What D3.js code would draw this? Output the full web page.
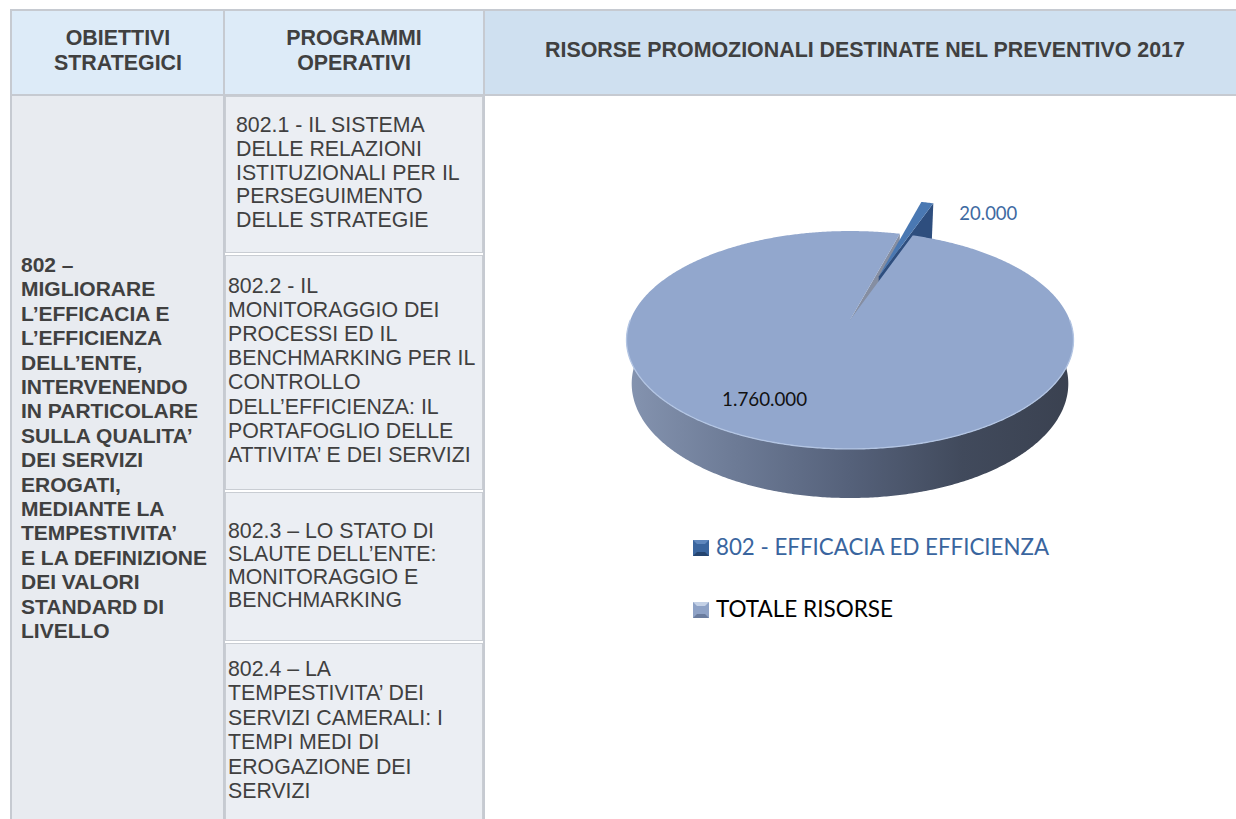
<!DOCTYPE html>
<html><head><meta charset="utf-8">
<script src="https://cdn.jsdelivr.net/npm/d3@7"></script>
<style>html,body{margin:0;padding:0;background:#fff;} svg{display:block;}</style>
</head><body>
<svg id="c" width="1236" height="819"></svg>
<script>
// ---------------- DATA ----------------
const headerLines = [["OBIETTIVI", "STRATEGICI"], ["PROGRAMMI", "OPERATIVI"], ["RISORSE PROMOZIONALI DESTINATE NEL PREVENTIVO 2017"]];
const objectiveLines = ["802 –", "MIGLIORARE", "L’EFFICACIA E", "L’EFFICIENZA", "DELL’ENTE,", "INTERVENENDO", "IN PARTICOLARE", "SULLA QUALITA’", "DEI SERVIZI", "EROGATI,", "MEDIANTE LA", "TEMPESTIVITA’", "E LA DEFINIZIONE", "DEI VALORI", "STANDARD DI", "LIVELLO"];
const programLines = [
  ["802.1 - IL SISTEMA", "DELLE RELAZIONI", "ISTITUZIONALI PER IL", "PERSEGUIMENTO", "DELLE STRATEGIE"],
  ["802.2 - IL", "MONITORAGGIO DEI", "PROCESSI ED IL", "BENCHMARKING PER IL", "CONTROLLO", "DELL’EFFICIENZA: IL", "PORTAFOGLIO DELLE", "ATTIVITA’ E DEI SERVIZI"],
  ["802.3 – LO STATO DI", "SLAUTE DELL’ENTE:", "MONITORAGGIO E", "BENCHMARKING"],
  ["802.4 – LA", "TEMPESTIVITA’ DEI", "SERVIZI CAMERALI: I", "TEMPI MEDI DI", "EROGAZIONE DEI", "SERVIZI"]
];
const categories = ["802 - EFFICACIA ED EFFICIENZA", "TOTALE RISORSE"];
const values = [20000, 1760000];

(function () {
const svg = d3.select("#c");
const W = 1236, Hh = 819;
const fmt = d3.formatLocale({decimal: ",", thousands: ".", grouping: [3], currency: ["€", ""]}).format(",");
const ARIAL = "'Liberation Sans', Arial, sans-serif";
const LATO = "Lato, 'Open Sans', sans-serif";
const border = "#C6CAD1";
const textCol = "#404040";

// ---------------- TABLE ----------------
const g = svg.append("g");
g.append("rect").attr("x", 11).attr("y", 10).attr("width", 213).attr("height", 85).attr("fill", "#DDEBF8");
g.append("rect").attr("x", 225).attr("y", 10).attr("width", 259).attr("height", 85).attr("fill", "#DDEBF8");
g.append("rect").attr("x", 485).attr("y", 10).attr("width", W - 485).attr("height", 85).attr("fill", "#CFE0F0");
g.append("rect").attr("x", 11).attr("y", 96).attr("width", 213).attr("height", Hh - 96).attr("fill", "#E8EBF0");

const cellBox = [[96, 252], [255, 489], [492, 640], [643, Hh + 5]];
const cellFirst = [132, 293, 538, 676];
const cellStep = [23.8, 24.1, 23, 24.4];
const cellX = [236, 228, 228, 228];
cellBox.forEach(b => {
  g.append("rect").attr("x", 225.5).attr("y", b[0] + 0.5).attr("width", 257).attr("height", b[1] - b[0])
    .attr("fill", "#EBEEF3").attr("stroke", "#C9CDD3").attr("stroke-width", 1);
});

g.append("rect").attr("x", 10).attr("y", 9).attr("width", W - 10).attr("height", 2).attr("fill", border);
g.append("rect").attr("x", 10).attr("y", 94).attr("width", W - 10).attr("height", 2).attr("fill", border);
[10, 223, 483].forEach(x => g.append("rect").attr("x", x).attr("y", 9).attr("width", 2).attr("height", Hh).attr("fill", border));

const headCx = [118, 354, 865];
headerLines.forEach((lines, i) => {
  const y0 = lines.length === 1 ? 57 : 45;
  lines.forEach((t, j) => {
    g.append("text").attr("x", headCx[i]).attr("y", y0 + j * 25)
      .attr("text-anchor", "middle").style("font-family", ARIAL).attr("font-weight", "bold")
      .attr("font-size", 21.4).attr("fill", textCol).text(t);
  });
});

objectiveLines.forEach((t, i) => {
  g.append("text").attr("x", 21).attr("y", 272 + i * 24.4)
    .style("font-family", ARIAL).attr("font-weight", "bold").attr("font-size", 21)
    .attr("fill", textCol).text(t);
});

programLines.forEach((lines, i) => {
  lines.forEach((t, j) => {
    g.append("text").attr("x", cellX[i]).attr("y", cellFirst[i] + j * cellStep[i])
      .style("font-family", ARIAL).attr("font-size", 21.3).attr("fill", textCol).text(t);
  });
});

// ---------------- 3D PIE (perspective projection) ----------------
const cx = 850, cy = 320;
const sinP = 0.4793, cosP = Math.sqrt(1 - sinP * sinP);
const Dist = 4.784, focal = 1051, depth = 0.229;
const rot = 15.5 * Math.PI / 180;
const explode = [0.47, 0];
const topCol = ["#4A78B2", "#92A7CD"];
const cutCol = ["#2E4E7E", "#858EA2"];

function proj(X, Y, Z) {
  const yc = Y * sinP + Z * cosP;
  const zc = Dist + Y * cosP - Z * sinP;
  return [cx + focal * X / zc, cy - focal * yc / zc];
}
const pie = d3.pie().sort(null).startAngle(rot).endAngle(rot + 2 * Math.PI);
const arcs = pie(values).map((a, i) => {
  const mid = (a.startAngle + a.endAngle) / 2;
  return Object.assign(a, {i, mid, ox: explode[i] * Math.sin(mid), oy: explode[i] * Math.cos(mid)});
});
function P(s, th, r, Z) { return proj(s.ox + r * Math.sin(th), s.oy + r * Math.cos(th), Z); }
function arcPts(s, a0, a1, Z) {
  const n = Math.max(2, Math.ceil((a1 - a0) / (Math.PI / 360)));
  return d3.range(n + 1).map(k => P(s, a0 + (a1 - a0) * k / n, 1, Z));
}
const line = d3.line();
const defs = svg.append("defs");
const wg = defs.append("linearGradient").attr("id", "wallG").attr("gradientUnits", "userSpaceOnUse")
  .attr("x1", 626).attr("x2", 1074).attr("y1", 0).attr("y2", 0);
[[0, "#8594B0"], [0.25, "#6C7A95"], [0.5, "#55617A"], [0.75, "#414A5C"], [1, "#3A4150"]]
  .forEach(s => wg.append("stop").attr("offset", s[0]).attr("stop-color", s[1]));

const pg = svg.append("g");
const small = arcs[0], big = arcs[1];

function wall(s, fill) {
  const a0 = Math.max(s.startAngle, Math.PI / 2), a1 = Math.min(s.endAngle, 3 * Math.PI / 2);
  if (a1 <= a0) return;
  const pts = arcPts(s, a0, a1, 0).concat(arcPts(s, a0, a1, -depth).reverse());
  pg.append("path").attr("d", line(pts) + "Z").attr("fill", fill);
}
function cut(s, th, fill) {
  const pts = [P(s, th, 0, 0), P(s, th, 1, 0), P(s, th, 1, -depth), P(s, th, 0, -depth)];
  pg.append("path").attr("d", line(pts) + "Z").attr("fill", fill);
}
function topFace(s, fill) {
  const pts = [P(s, 0, 0, 0)].concat(arcPts(s, s.startAngle, s.endAngle, 0));
  pg.append("path").attr("d", line(pts) + "Z").attr("fill", fill);
}

wall(big, "url(#wallG)");
cut(big, big.endAngle, cutCol[1]);
cut(big, big.startAngle, cutCol[1]);
cut(small, small.endAngle, cutCol[0]);
topFace(small, topCol[0]);
topFace(big, topCol[1]);
pg.append("path").attr("d", line(arcPts(big, Math.PI / 2, 3 * Math.PI / 2, 0)))
  .attr("fill", "none").attr("stroke", "#B3C5E3").attr("stroke-width", 1.3);

// data labels
const ps = P(small, small.mid, 1, 0);
pg.append("text").attr("x", ps[0] + 32).attr("y", ps[1] + 17)
  .style("font-family", LATO).attr("font-size", 20)
  .attr("fill", "#3E6AA2").attr("textLength", 58).attr("lengthAdjust", "spacingAndGlyphs")
  .text(fmt(values[0]));
const pb = P(big, big.mid + 10 * Math.PI / 180, 0.74, 0);
pg.append("text").attr("x", pb[0]).attr("y", pb[1] + 7).attr("text-anchor", "middle")
  .style("font-family", LATO).attr("font-size", 19.5)
  .attr("fill", "#111").attr("textLength", 85).attr("lengthAdjust", "spacingAndGlyphs")
  .text(fmt(values[1]));

// ---------------- LEGEND ----------------
const legCol = [["#3A659E", "#5F87BD", "#24446F"], ["#8EA2C6", "#C4D1E6", "#6A7C9E"]];
const legTextCol = ["#3A659E", "#000000"];
const legW = [333, 177];
const lg = svg.append("g");
categories.forEach((c, i) => {
  const x = 693, y = 540 + i * 62, s = 16, b = 4;
  const cc = legCol[i];
  lg.append("rect").attr("x", x).attr("y", y).attr("width", s).attr("height", s).attr("fill", cc[0]);
  lg.append("path").attr("d", line([[x, y], [x + s, y], [x + s - b, y + b], [x + b, y + b]]) + "Z").attr("fill", cc[1]);
  lg.append("path").attr("d", line([[x, y + s], [x + s, y + s], [x + s - b, y + s - b], [x + b, y + s - b]]) + "Z").attr("fill", cc[2]);
  lg.append("text").attr("x", 716).attr("y", y + 15)
    .style("font-family", LATO).attr("font-size", 23)
    .attr("fill", legTextCol[i]).attr("textLength", legW[i]).attr("lengthAdjust", "spacingAndGlyphs")
    .text(c);
});
})();
</script>
</body></html>
